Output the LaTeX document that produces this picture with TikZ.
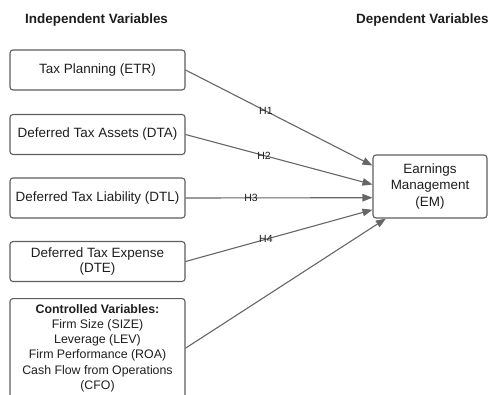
\documentclass[tikz,border=0pt]{standalone}
\usepackage{fontspec}
\setmainfont{Liberation Sans}
\usetikzlibrary{arrows.meta,positioning}

\definecolor{boxgray}{HTML}{5E5E5E}
\definecolor{arrgray}{HTML}{666666}
\definecolor{txtgray}{HTML}{1E1E1E}

\tikzset{
	varbox/.style={draw=boxgray,line width=1.1bp,rounded corners=3bp,minimum width=175bp,minimum height=40bp,
		align=center,inner sep=2bp,text=txtgray,font=\fontsize{13.5}{16}\selectfont},
	headtxt/.style={anchor=west,inner sep=0pt,text=txtgray,font=\fontsize{13.5}{16}\selectfont\bfseries},
	hyp/.style={inner sep=0pt,text=txtgray,font=\fontsize{10.5}{12}\selectfont}
}

\begin{document}
\begin{tikzpicture}[x=1bp,y=-1bp]
									\useasboundingbox (0,0) rectangle (491,394);
									
									\node[headtxt] (IV) at (25,20) {Independent Variables};
									\node[headtxt] (DV) at (356,20) {Dependent Variables};
									
									\foreach \lbl/\y [count=\n] in  
        							{Tax Planning (ETR)/70,Deferred Tax Assets (DTA)/134.5,Deferred Tax Liability (DTL)/198,{Deferred Tax Expense\\(DTE)}/261.5} 
           							\node[varbox](N\n) at (97.5,\y) {\lbl};
           							
           							\node[varbox,anchor=north,inner ysep=6bp,font=\fontsize{12.4}{15.2}\selectfont](N5) at (97.5,298)
           								{\textbf{Controlled Variables:}\\Firm Size (SIZE)\\Leverage (LEV)\\Firm Performance (ROA)\\Cash Flow from Operations\\(CFO)};
           							
           							\node[varbox,minimum width=114bp,minimum height=63bp,font=\fontsize{13.5}{17}\selectfont](EM) at (430,186.5)
           								{Earnings\\Management\\(EM)};
           							
           							\path[-{Triangle[length=10bp,width=7.5bp]},every edge/.append style={draw=arrgray,line width=1.1bp}]
           								(N1.east) edge node[hyp,pos=.43] {H1} (EM.160)
           								(N2.east) edge node[hyp,pos=.42] {H2} (EM.178)
           								(N3.east) edge node[hyp,pos=.35] {H3} (EM.191)
           								(N4.east) edge node[hyp,pos=.43] {H4} (EM.202)
           								(N5.east) edge (EM.216);
           						\end{tikzpicture}
\end{document}
